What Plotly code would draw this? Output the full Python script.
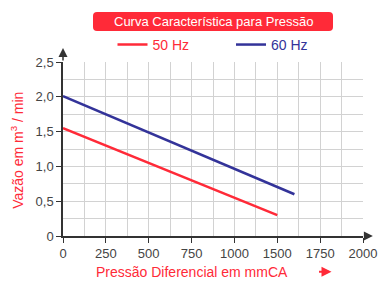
import numpy as np
import plotly.graph_objects as go

# Data
tick_labels = ["0", "250", "500", "750", "1000", "1500", "1750", "2000"]
tick_values = [0, 250, 500, 750, 1000, 1500, 1750, 2000]
pressure_50 = [0, 1500]
flow_50 = [1.55, 0.30]
pressure_60 = [0, 1600]
flow_60 = [2.01, 0.60]
y_ticks = [0, 0.5, 1.0, 1.5, 2.0, 2.5]
y_labels = ["0", "0,5", "1,0", "1,5", "2,0", "2,5"]

RED = "#ff2a38"
BLUE = "#333399"
FONT = "Liberation Sans, Arial, sans-serif"

# map label values onto the (evenly spaced) axis positions used by the chart
pos_index = [float(i) for i in range(len(tick_values))]
def to_pos(v):
    return [float(p) for p in np.interp(v, tick_values, pos_index)]

fig = go.Figure()
fig.add_trace(go.Scatter(x=to_pos(pressure_50), y=flow_50, mode="lines",
                         line=dict(color=RED, width=2.5), name="50 Hz", legend="legend"))
fig.add_trace(go.Scatter(x=to_pos(pressure_60), y=flow_60, mode="lines",
                         line=dict(color=BLUE, width=2.5), name="60 Hz", legend="legend2"))

leg_common = dict(orientation="h", xanchor="left", yanchor="middle",
                  bgcolor="rgba(0,0,0,0)", itemwidth=30)
fig.update_layout(
    width=378, height=282,
    margin=dict(l=63, r=15, t=62, b=46, autoexpand=False),
    paper_bgcolor="white", plot_bgcolor="white",
    font=dict(family=FONT, size=13, color="#444"),
    showlegend=True,
    legend=dict(x=0.165, y=1.098, font=dict(color=RED, size=14, family=FONT), **leg_common),
    legend2=dict(x=0.56, y=1.098, font=dict(color=BLUE, size=14, family=FONT), **leg_common),
)
fig.update_xaxes(range=[0, 7], tickmode="array", tickvals=pos_index, ticktext=tick_labels,
                 showgrid=True, gridcolor="#d2d2d2", gridwidth=1.3,
                 minor=dict(dtick=0.5, showgrid=True, gridcolor="#d2d2d2", gridwidth=1.3),
                 ticks="outside", ticklen=5, tickcolor="#333", tickwidth=1.2,
                 showline=True, linecolor="#333", linewidth=1.5,
                 zeroline=False, tickfont=dict(size=13, color="#444"))
fig.update_yaxes(range=[0, 2.5], tickmode="array", tickvals=y_ticks, ticktext=y_labels,
                 showgrid=True, gridcolor="#d2d2d2", gridwidth=1.3,
                 minor=dict(dtick=0.25, showgrid=True, gridcolor="#d2d2d2", gridwidth=1.3),
                 ticks="outside", ticklen=5, tickcolor="#333", tickwidth=1.2,
                 showline=True, linecolor="#333", linewidth=1.5,
                 zeroline=False, tickfont=dict(size=13, color="#444"))

# title box with rounded corners
x0, x1, y0, y1 = 0.1, 0.9, 1.178, 1.287
dx, dy = 4 / 300, 4 / 174
path = (f"M {x0+dx},{y0} L {x1-dx},{y0} Q {x1},{y0} {x1},{y0+dy} "
        f"L {x1},{y1-dy} Q {x1},{y1} {x1-dx},{y1} L {x0+dx},{y1} "
        f"Q {x0},{y1} {x0},{y1-dy} L {x0},{y0+dy} Q {x0},{y0} {x0+dx},{y0} Z")
fig.add_shape(type="path", path=path, xref="paper", yref="paper",
              fillcolor=RED, line=dict(width=0), layer="below")
fig.add_annotation(xref="paper", yref="paper", x=0.5, y=1.233, showarrow=False,
                   xanchor="center", yanchor="middle",
                   text="Curva Característica para Pressão",
                   font=dict(color="white", size=13, family=FONT))

# axis arrows
fig.add_annotation(xref="paper", yref="y", x=1.033, y=0, ax=-10, ay=0,
                   showarrow=True, arrowhead=2, arrowsize=1.2, arrowwidth=1.5,
                   arrowcolor="#333", text="")
fig.add_annotation(xref="x", yref="paper", x=0, y=1.08, ax=0, ay=14,
                   showarrow=True, arrowhead=2, arrowsize=1.2, arrowwidth=1.5,
                   arrowcolor="#333", text="")

# axis titles
fig.add_annotation(xref="paper", yref="paper", x=-0.153, y=0.49, showarrow=False,
                   xanchor="center", yanchor="middle",
                   text="Vazão em m<sup>3</sup> / min", textangle=-90,
                   font=dict(color=RED, size=14, family=FONT))
fig.add_annotation(xref="paper", yref="paper", x=0.43, y=-0.205, showarrow=False,
                   xanchor="center", yanchor="middle",
                   text="Pressão Diferencial em mmCA",
                   font=dict(color=RED, size=14, family=FONT))
fig.add_annotation(xref="paper", yref="paper", x=0.895, y=-0.205, ax=-14, ay=0,
                   showarrow=True, arrowhead=2, arrowsize=1, arrowwidth=2,
                   arrowcolor=RED, text="")

fig.write_html("out.html", config={"displayModeBar": False},
               post_script="document.body.style.margin='0';")
